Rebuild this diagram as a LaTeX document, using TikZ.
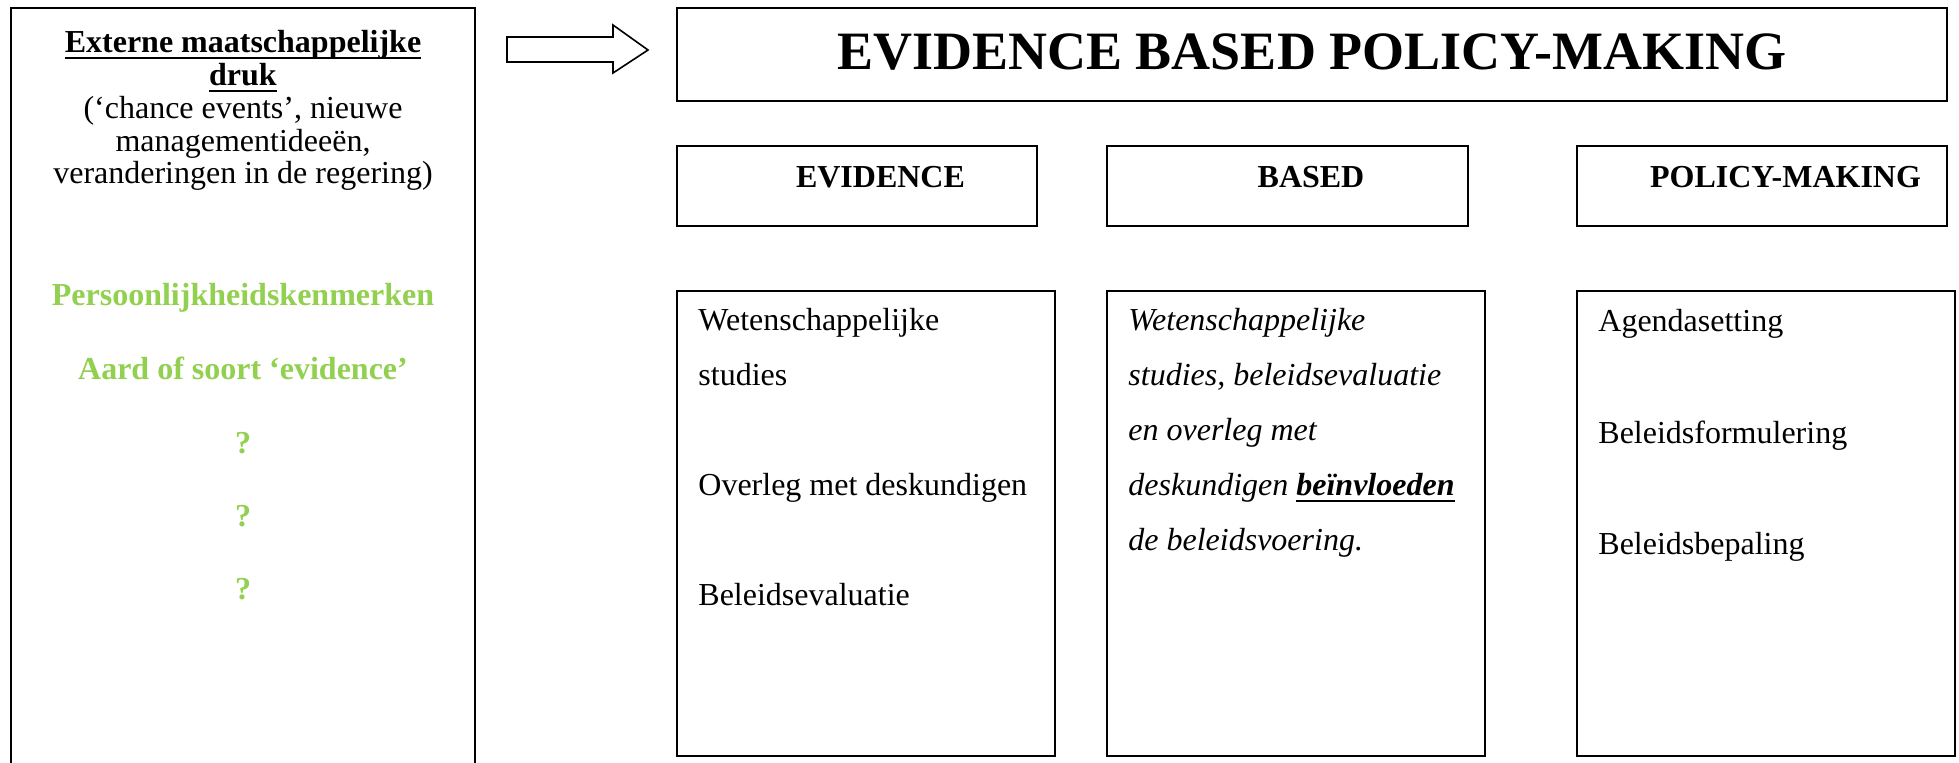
\documentclass[tikz,border=0pt]{standalone}
\usepackage{fontspec}
\setmainfont{Liberation Serif}
\usetikzlibrary{fit}
\definecolor{leafgreen}{HTML}{92D050}

% underline with a fixed depth below the baseline
\newsavebox{\ulcontent}
\newcommand{\ulbar}[1]{\sbox{\ulcontent}{#1}\rlap{\rule[-3.5pt]{\wd\ulcontent}{1pt}}\usebox{\ulcontent}}

\begin{document}
\begin{tikzpicture}[x=0.5pt, y=-0.5pt,
  frame/.style={draw, line width=0.8pt, inner sep=0pt},
  body/.style={inner sep=0pt, font=\fontsize{16}{19}\selectfont},
  lefttext/.style={body, anchor=base west},
  midtext/.style={body, anchor=base},
  boldmid/.style={midtext, font=\fontsize{16}{19}\selectfont\bfseries},
  hint/.style={boldmid, text=leafgreen},
  slanted/.style={lefttext, font=\fontsize{16}{19}\selectfont\itshape},
]
\useasboundingbox (0,0) rectangle (1959,762);
\clip (0,0) rectangle (1959,762);
\fill[white] (0,0) rectangle (1959,762);

% frames
\node[frame, line width=1.1pt, fit={(11,8) (475,790)}] (pressure) {};
\node[frame, fit={(677,8) (1947,101)}] (title) {};
\node[frame, fit={(677,146) (1037,226)}] (hevidence) {};
\node[frame, fit={(1107,146) (1468,226)}] (hbased) {};
\node[frame, fit={(1577,146) (1947,226)}] (hpolicy) {};
\node[frame, fit={(677,291) (1055,756)}] (cevidence) {};
\node[frame, fit={(1107,291) (1485,756)}] (cbased) {};
\node[frame, fit={(1577,291) (1955,756)}] (cpolicy) {};

% block arrow pointing to the title
\draw[line width=0.8pt, fill=white, line join=miter]
  (507,37) -- (613,37) -- (613,25) -- (648,50) -- (613,73) -- (613,62) -- (507,62) -- cycle;

% title and column headings
\node[midtext, font=\fontsize{27}{32}\selectfont\bfseries] (titletext) at (1312,69) {EVIDENCE BASED POLICY-MAKING};
\node[boldmid] (hevidencetext) at (880.5,187) {EVIDENCE};
\node[boldmid] (hbasedtext) at (1311,187) {BASED};
\node[boldmid] (hpolicytext) at (1785.5,187) {POLICY-MAKING};

% external pressure panel
\node[boldmid] (p1) at (243,52) {\ulbar{Externe maatschappelijke}};
\node[boldmid] (p2) at (243,85) {\ulbar{druk}};
\node[midtext] (p3) at (243,118) {(‘chance events’, nieuwe};
\node[midtext] (p4) at (243,151) {managementideeën,};
\node[midtext] (p5) at (243,183) {veranderingen in de regering)};
\node[hint] (g1) at (243,305) {Persoonlijkheidskenmerken};
\node[hint] (g2) at (243,379) {Aard of soort ‘evidence’};
\node[hint] (g3) at (243,453) {?};
\node[hint] (g4) at (243,526) {?};
\node[hint] (g5) at (243,599) {?};

% evidence column
\node[lefttext] (e1) at (698,330) {Wetenschappelijke};
\node[lefttext] (e2) at (698,385) {studies};
\node[lefttext] (e3) at (698,495) {Overleg met deskundigen};
\node[lefttext] (e4) at (698,605) {Beleidsevaluatie};

% based column
\node[slanted] (b1) at (1128,330) {Wetenschappelijke};
\node[slanted] (b2) at (1128,385) {studies, beleidsevaluatie};
\node[slanted] (b3) at (1128,440) {en overleg met};
\node[slanted] (b4) at (1128,495) {deskundigen \textbf{\ulbar{beïnvloeden}}};
\node[slanted] (b5) at (1128,550) {de beleidsvoering.};

% policy-making column
\node[lefttext] (m1) at (1598,331) {Agendasetting};
\node[lefttext] (m2) at (1598,443) {Beleidsformulering};
\node[lefttext] (m3) at (1598,554) {Beleidsbepaling};
\end{tikzpicture}
\end{document}
